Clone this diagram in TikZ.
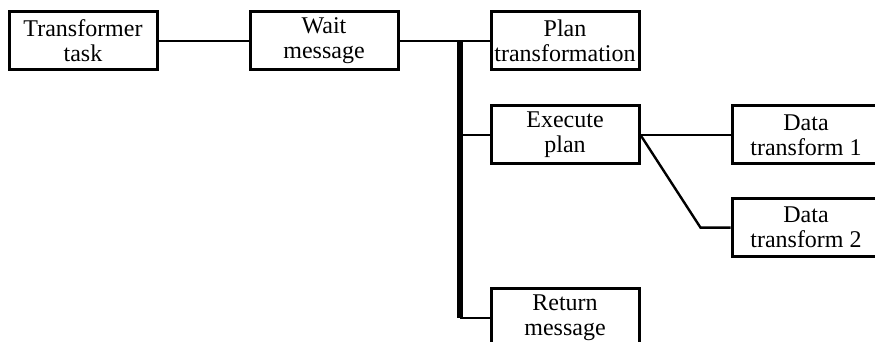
\documentclass[tikz,border=0pt]{standalone}
\usepackage{fontspec}
\setmainfont{Liberation Serif}
\usetikzlibrary{positioning}

\begin{document}
\begin{tikzpicture}[x=0.5pt,y=-0.5pt,node distance=16.5pt and 45pt,
    box/.style={draw,line width=1.5pt,minimum width=74pt,minimum height=29pt,inner sep=1pt,align=center,font=\fontsize{12}{12.4}\selectfont},
    link/.style={line width=1.2pt},
    bus/.style={line width=2.8pt}]
    \clip (0,0) rectangle (875,342);
    \node[box] (task) at (83,41) {Transformer\\task};
    \node[box] (wait) [right=of task] {Wait\\message};
    \node[box] (plan) [right=of wait] {Plan\\transformation};
    \node[box] (exec) [below=of plan] {Execute\\plan};
    \node[box] (dt1) [right=of exec] {Data\\transform 1};
    \node[box] (dt2) [below=15.8pt of dt1] {Data\\transform 2};
    \node[box] (ret) [below=61pt of exec] {Return\\message};
    \coordinate (bt) at (460,41);

    \draw[link] (task) -- (wait);
    \draw[link] (wait) -- (plan);
    \draw[bus] (bt) -- (bt |- ret.west);
    \draw[link] (bt |- exec.west) -- (exec.west);
    \draw[link] (bt |- ret.west) -- (ret.west);
    \draw[link] (exec) -- (dt1);
    \draw[link] (exec.east) -- ([xshift=-15pt] dt2.west) -- (dt2.west);
\end{tikzpicture}
\end{document}
